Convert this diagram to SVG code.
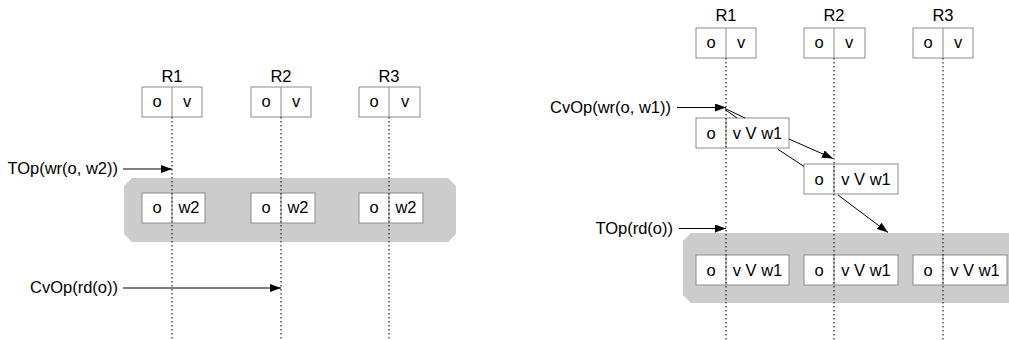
<svg xmlns="http://www.w3.org/2000/svg" width="1009" height="340" viewBox="0 0 1009 340">
<style>
text{font-family:"Liberation Sans",Arial,sans-serif;font-size:16.5px;fill:#000}
.c{text-anchor:middle}
.e{text-anchor:end}
.box{fill:#fff;stroke:#8c8c8c;stroke-width:1}
.band{fill:#cccccc;stroke:none}
.dot{stroke:#000;stroke-width:1;stroke-dasharray:1.5,2.5;fill:none}
.arr{stroke:#000;stroke-width:1;fill:none}
.ah{marker-end:url(#ah)}
</style>
<defs>
<marker id="ah" markerUnits="userSpaceOnUse" markerWidth="12" markerHeight="9" refX="11" refY="4" orient="auto">
<path d="M0,0 L11,4 L0,8 z" fill="#000"/>
</marker>
</defs>

<!-- Left panel -->
<g id="left-band"><path class="band" d="M132,178 L448,178 L456,186 L456,234 L448,242 L132,242 L124,234 L124,186 z"/></g>

<g id="L-R1-top"><text class="c" x="172" y="81.5">R1</text><rect class="box" x="142" y="87" width="60" height="30"/><line x1="172" y1="87" x2="172" y2="117" stroke="#8c8c8c"/><text class="c" x="157" y="107">o</text><text class="c" x="187" y="107">v</text></g>
<g id="L-R2-top"><text class="c" x="281" y="81.5">R2</text><rect class="box" x="251" y="87" width="60" height="30"/><line x1="281" y1="87" x2="281" y2="117" stroke="#8c8c8c"/><text class="c" x="266" y="107">o</text><text class="c" x="296" y="107">v</text></g>
<g id="L-R3-top"><text class="c" x="389" y="81.5">R3</text><rect class="box" x="359" y="87" width="61" height="30"/><line x1="389" y1="87" x2="389" y2="117" stroke="#8c8c8c"/><text class="c" x="374" y="107">o</text><text class="c" x="405" y="107">v</text></g>

<g id="L-R1-w2"><rect class="box" x="142" y="193" width="63" height="30"/><line x1="172" y1="193" x2="172" y2="223" stroke="#8c8c8c"/><text class="c" x="157" y="213">o</text><text class="c" x="189" y="213">w2</text></g>
<g id="L-R2-w2"><rect class="box" x="251" y="193" width="64" height="30"/><line x1="281" y1="193" x2="281" y2="223" stroke="#8c8c8c"/><text class="c" x="266" y="213">o</text><text class="c" x="298" y="213">w2</text></g>
<g id="L-R3-w2"><rect class="box" x="359" y="193" width="64" height="30"/><line x1="389" y1="193" x2="389" y2="223" stroke="#8c8c8c"/><text class="c" x="374" y="213">o</text><text class="c" x="406" y="213">w2</text></g>

<g id="L-TOp"><text class="e" x="118" y="174">TOp(wr(o, w2))</text></g>
<g id="L-CvOp"><text class="e" x="118" y="293">CvOp(rd(o))</text></g>

<!-- Right panel -->
<g id="right-band"><path class="band" d="M691,233 L1009,233 L1009,303 L691,303 L683,295 L683,241 z"/></g>

<g id="R-R1-top"><text class="c" x="726" y="21">R1</text><rect class="box" x="696" y="28" width="60" height="30"/><line x1="726" y1="28" x2="726" y2="58" stroke="#8c8c8c"/><text class="c" x="711" y="48">o</text><text class="c" x="741" y="48">v</text></g>
<g id="R-R2-top"><text class="c" x="834" y="21">R2</text><rect class="box" x="804" y="28" width="61" height="30"/><line x1="834" y1="28" x2="834" y2="58" stroke="#8c8c8c"/><text class="c" x="819" y="48">o</text><text class="c" x="849" y="48">v</text></g>
<g id="R-R3-top"><text class="c" x="943" y="21">R3</text><rect class="box" x="913" y="28" width="60" height="30"/><line x1="943" y1="28" x2="943" y2="58" stroke="#8c8c8c"/><text class="c" x="928" y="48">o</text><text class="c" x="958" y="48">v</text></g>

<g id="R-R1-w1"><rect class="box" x="696" y="118" width="93" height="30"/><line x1="726" y1="118" x2="726" y2="148" stroke="#8c8c8c"/><text class="c" x="711" y="138.5">o</text><text class="c" x="757.5" y="138.5">v V w1</text></g>
<g id="R-R2-w1"><rect class="box" x="804" y="164" width="94" height="30"/><line x1="834" y1="164" x2="834" y2="194" stroke="#8c8c8c"/><text class="c" x="819" y="184.5">o</text><text class="c" x="866" y="184.5">v V w1</text></g>

<g id="R-R1-fin"><rect class="box" x="696" y="255" width="93" height="30"/><line x1="726" y1="255" x2="726" y2="285" stroke="#8c8c8c"/><text class="c" x="711" y="275.5">o</text><text class="c" x="757.5" y="275.5">v V w1</text></g>
<g id="R-R2-fin"><rect class="box" x="804" y="255" width="94" height="30"/><line x1="834" y1="255" x2="834" y2="285" stroke="#8c8c8c"/><text class="c" x="819" y="275.5">o</text><text class="c" x="866" y="275.5">v V w1</text></g>
<g id="R-R3-fin"><rect class="box" x="913" y="255" width="94" height="30"/><line x1="943" y1="255" x2="943" y2="285" stroke="#8c8c8c"/><text class="c" x="928" y="275.5">o</text><text class="c" x="975" y="275.5">v V w1</text></g>

<g id="R-CvOp"><text class="e" x="671" y="112.5">CvOp(wr(o, w1))</text></g>
<g id="R-TOp"><text class="e" x="673" y="233.5">TOp(rd(o))</text></g>

<g id="connectors">
<line class="dot" x1="172" y1="117" x2="172" y2="340"/>
<line class="dot" x1="281" y1="117" x2="281" y2="340"/>
<line class="dot" x1="389" y1="117" x2="389" y2="340"/>
<line class="dot" x1="726" y1="58" x2="726" y2="340"/>
<line class="dot" x1="834" y1="58" x2="834" y2="340"/>
<line class="dot" x1="943" y1="58" x2="943" y2="340"/>
<line class="arr ah" x1="123" y1="169" x2="172" y2="169"/>
<line class="arr ah" x1="123" y1="288" x2="281" y2="288"/>
<line class="arr ah" x1="677" y1="107.5" x2="726" y2="107.5"/>
<line class="arr ah" x1="679" y1="228.5" x2="726" y2="228.5"/>
<line class="arr" x1="725" y1="108.5" x2="745" y2="118"/>
<line class="arr" x1="725" y1="109.5" x2="737" y2="118"/>
<line class="arr ah" x1="789" y1="139" x2="833" y2="158.5"/>
<line class="arr" x1="777.5" y1="149" x2="804" y2="166.5"/>
<line class="arr ah" x1="838" y1="195" x2="888" y2="232.5"/>
</g>
</svg>
